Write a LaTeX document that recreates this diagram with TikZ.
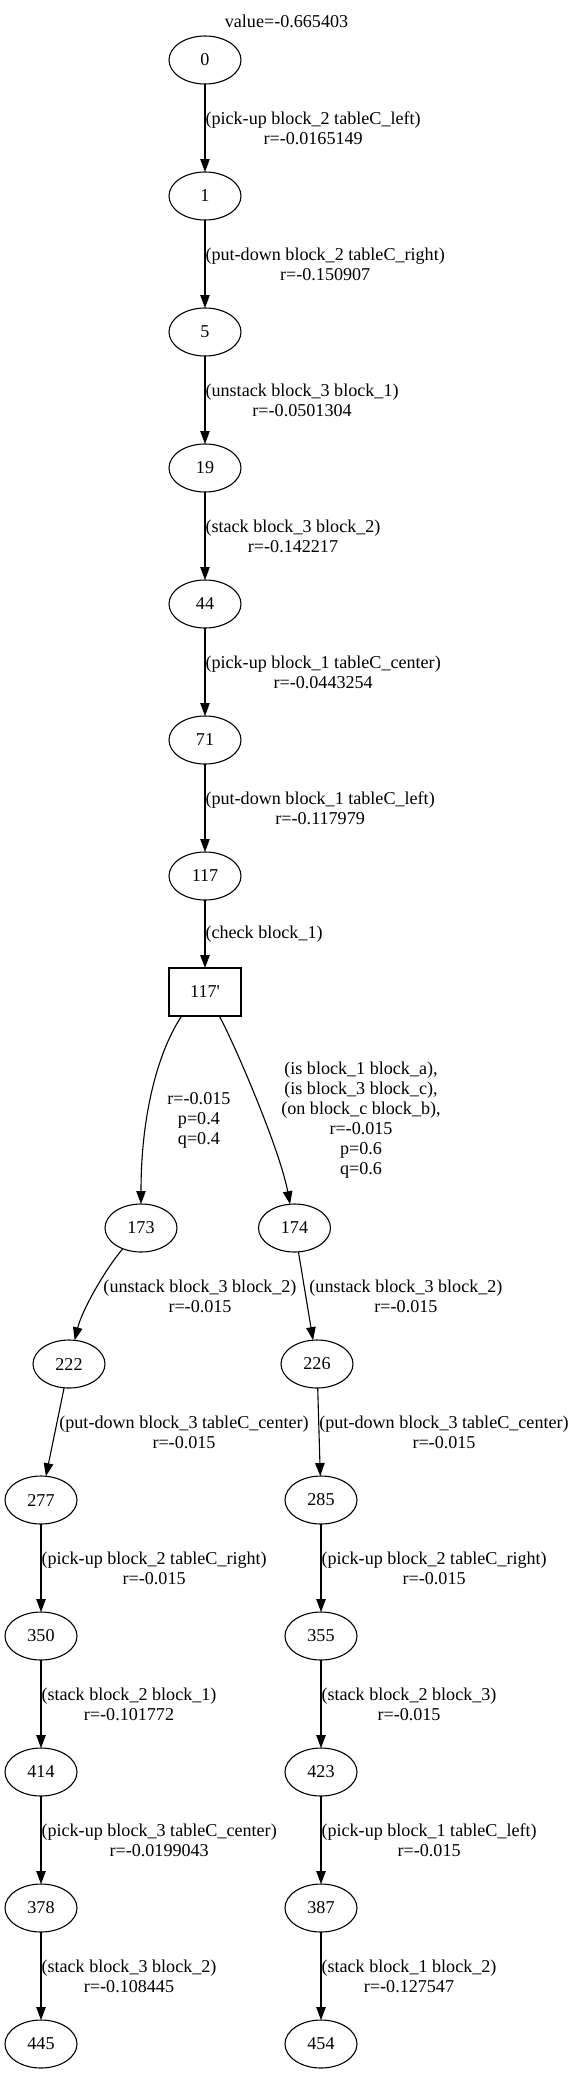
\documentclass[tikz,border=0pt]{standalone}
\usepackage{fontspec}
\setmainfont{Liberation Serif}
\usetikzlibrary{arrows.meta, positioning, shapes.geometric}

\begin{document}
\begin{tikzpicture}[
    x=1pt, y=1pt,
    node distance=88pt,
    every node/.style={font=\fontsize{18.1}{20}\selectfont},
    state/.style={ellipse, draw, line width=1.1pt, minimum width=72pt,
                  minimum height=48pt, inner sep=0pt, outer sep=0pt},
    decision/.style={rectangle, draw, line width=1.1pt, minimum width=72pt,
                     minimum height=48pt, inner sep=0pt, outer sep=0pt},
    arrow/.style={-{Triangle[length=13pt, width=9.5pt]}, line width=1.1pt},
    lbl/.style={align=center, inner sep=0pt},
]
    \useasboundingbox (0,0) rectangle (573,-2075);

    % Title
    \node[lbl] (value) at (286.5,-21) {value=-0.665403};

    % Main chain
    \node[state] (n0) at (205,-60) {0};
    \node[state, below=of n0] (n1) {1};
    \node[state, below=of n1] (n5) {5};
    \node[state, below=of n5] (n19) {19};
    \node[state, below=of n19] (n44) {44};
    \node[state, below=of n44] (n71) {71};
    \node[state, below=of n71] (n117) {117};
    \node[decision, below=68pt of n117] (n117p) {117\textquotesingle};

    % Left branch
    \node[state, below=188pt of n117p, xshift=-64pt] (n173) {173};
    \node[state, below=of n173, xshift=-72pt] (n222) {222};
    \node[state, below=of n222, xshift=-28pt] (n277) {277};
    \node[state, below=of n277] (n350) {350};
    \node[state, below=of n350] (n414) {414};
    \node[state, below=of n414] (n378) {378};
    \node[state, below=of n378] (n445) {445};

    % Right branch
    \node[state, below=188pt of n117p, xshift=89.5pt] (n174) {174};
    \node[state, below=of n174, xshift=22.5pt] (n226) {226};
    \node[state, below=of n226, xshift=4pt] (n285) {285};
    \node[state, below=of n285] (n355) {355};
    \node[state, below=of n355] (n423) {423};
    \node[state, below=of n423] (n387) {387};
    \node[state, below=of n387] (n454) {454};

    % Arrows, main chain
    \draw[arrow] (n0) -- node[lbl, midway, anchor=west] {(pick-up block\_2 tableC\_left)\\r=-0.0165149} (n1);
    \draw[arrow] (n1) -- node[lbl, midway, anchor=west] {(put-down block\_2 tableC\_right)\\r=-0.150907} (n5);
    \draw[arrow] (n5) -- node[lbl, midway, anchor=west] {(unstack block\_3 block\_1)\\r=-0.0501304} (n19);
    \draw[arrow] (n19) -- node[lbl, midway, anchor=west] {(stack block\_3 block\_2)\\r=-0.142217} (n44);
    \draw[arrow] (n44) -- node[lbl, midway, anchor=west] {(pick-up block\_1 tableC\_center)\\r=-0.0443254} (n71);
    \draw[arrow] (n71) -- node[lbl, midway, anchor=west] {(put-down block\_1 tableC\_left)\\r=-0.117979} (n117);
    \draw[arrow] (n117) -- node[lbl, midway, anchor=west] {(check block\_1)} (n117p);

    % Arrows, outcomes
    \draw[arrow] ([xshift=-23.3pt]n117p.south) .. controls +(-21.7,-32) and +(0,118) .. (n173)
        node[lbl, pos=0.5, xshift=45.7pt, yshift=-33.3pt] {r=-0.015\\p=0.4\\q=0.4};
    \draw[arrow] ([xshift=14.3pt]n117p.south) .. controls +(15.7,-29) and +(-14.5,78) .. (n174)
        node[lbl, pos=0.5, xshift=104.2pt, yshift=-19.4pt] {(is block\_1 block\_a),\\(is block\_3 block\_c),\\(on block\_c block\_b),\\r=-0.015\\p=0.6\\q=0.6};

    % Arrows, left branch
    \draw[arrow] (n173) .. controls +(-35,-40) and +(13,54) .. (n222)
        node[lbl, pos=0.5, xshift=104.8pt, yshift=-5.7pt] {(unstack block\_3 block\_2)\\r=-0.015};
    \draw[arrow] (n222) -- node[lbl, midway, xshift=129pt] {(put-down block\_3 tableC\_center)\\r=-0.015} (n277);
    \draw[arrow] (n277) -- node[lbl, midway, anchor=west] {(pick-up block\_2 tableC\_right)\\r=-0.015} (n350);
    \draw[arrow] (n350) -- node[lbl, midway, anchor=west] {(stack block\_2 block\_1)\\r=-0.101772} (n414);
    \draw[arrow] (n414) -- node[lbl, midway, anchor=west] {(pick-up block\_3 tableC\_center)\\r=-0.0199043} (n378);
    \draw[arrow] (n378) -- node[lbl, midway, anchor=west] {(stack block\_3 block\_2)\\r=-0.108445} (n445);

    % Arrows, right branch
    \draw[arrow] (n174) -- node[lbl, midway, xshift=100.2pt] {(unstack block\_3 block\_2)\\r=-0.015} (n226);
    \draw[arrow] (n226) -- node[lbl, midway, xshift=125pt] {(put-down block\_3 tableC\_center)\\r=-0.015} (n285);
    \draw[arrow] (n285) -- node[lbl, midway, anchor=west] {(pick-up block\_2 tableC\_right)\\r=-0.015} (n355);
    \draw[arrow] (n355) -- node[lbl, midway, anchor=west] {(stack block\_2 block\_3)\\r=-0.015} (n423);
    \draw[arrow] (n423) -- node[lbl, midway, anchor=west] {(pick-up block\_1 tableC\_left)\\r=-0.015} (n387);
    \draw[arrow] (n387) -- node[lbl, midway, anchor=west] {(stack block\_1 block\_2)\\r=-0.127547} (n454);
\end{tikzpicture}
\end{document}
